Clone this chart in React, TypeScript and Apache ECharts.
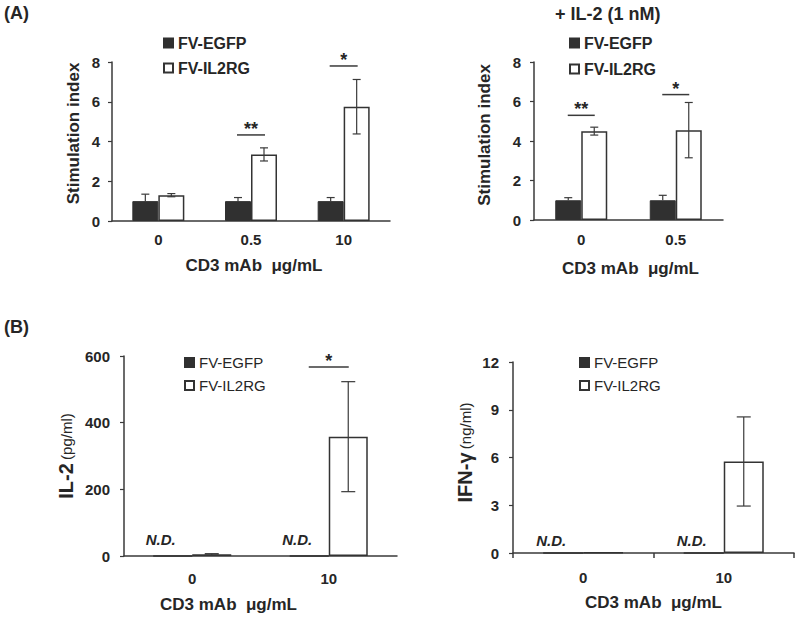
import React, { useEffect, useRef } from 'react';
import * as echarts from 'echarts';

// ---------- data ----------
const seriesNames = ['FV-EGFP', 'FV-IL2RG'];

// (A) left: Stimulation index
const aCats = ['0', '0.5', '10'];
const aEgfp = [1, 1, 1];
const aEgfpErr = [0.35, 0.18, 0.18];
const aIl2rg = [1.3, 3.35, 5.75];
const aIl2rgErr = [0.08, 0.33, 1.37];
const aSig: [number, number, string][] = [[1, 4.33, '**'], [2, 7.8, '*']];
const aYTicks = [0, 2, 4, 6, 8];

// (A) right: + IL-2 (1 nM)
const a2Cats = ['0', '0.5'];
const a2Egfp = [1, 1];
const a2EgfpErr = [0.13, 0.25];
const a2Il2rg = [4.5, 4.55];
const a2Il2rgErr = [0.2, 1.4];
const a2Sig: [number, number, string][] = [[0, 5.3, '**'], [1, 6.35, '*']];
const a2YTicks = [0, 2, 4, 6, 8];

// (B) left: IL-2 (pg/ml)
const bCats = ['0', '10'];
const bEgfp = [0, 0];
const bIl2rg = [5, 358];
const bIl2rgErr = [2, 165];
const bSig: [number, number, string][] = [[1, 567, '*']];
const bND = [0, 1];
const bYTicks = [0, 200, 400, 600];

// (B) right: IFN-γ (ng/ml)
const b2Cats = ['0', '10'];
const b2Egfp = [0, 0];
const b2Il2rg = [0.03, 5.75];
const b2Il2rgErr = [0, 2.8];
const b2ND = [0, 1];
const b2YTicks = [0, 3, 6, 9, 12];

// ---------- style ----------
const FONT = '"Liberation Sans", Arial, Helvetica, sans-serif';
const INK = '#262626';
const LINE = '#3a3a3a';

type PanelDef = {
  cats: string[];
  egfp: number[];
  egfpErr: number[] | null;
  il2rg: number[];
  il2rgErr: number[];
  sig: [number, number, string][];
  nd: number[];
  yTicks: number[];
  grid: { left: number; top: number; width: number; height: number };
  barW: number;
  capW: number;
  sigW: number;
  yName: string;
  yNameRich: boolean;
  yNameGap: number;
  yNamePad: number[];
  yLabelMargin: number;
  xLabelMargin: number;
  xNameGap: number;
  xNamePad: number[];
  xTicks: boolean;
  legend: { left: number; top: number; itemGap: number; bold: boolean; fontSize: number };
  ndDy: number;
};

const panels: PanelDef[] = [
  {
    cats: aCats, egfp: aEgfp, egfpErr: aEgfpErr, il2rg: aIl2rg, il2rgErr: aIl2rgErr,
    sig: aSig, nd: [], yTicks: aYTicks,
    grid: { left: 112, top: 62, width: 278, height: 159 },
    barW: 26, capW: 8, sigW: 28,
    yName: 'Stimulation index', yNameRich: false, yNameGap: 30, yNamePad: [0, 0, 0, 16],
    yLabelMargin: 12, xLabelMargin: 11, xNameGap: 36, xNamePad: [0, 0, 0, 6], xTicks: false,
    legend: { left: 163, top: 35, itemGap: 9, bold: true, fontSize: 16 }, ndDy: 0,
  },
  {
    cats: a2Cats, egfp: a2Egfp, egfpErr: a2EgfpErr, il2rg: a2Il2rg, il2rgErr: a2Il2rgErr,
    sig: a2Sig, nd: [], yTicks: a2YTicks,
    grid: { left: 534, top: 62, width: 189, height: 158 },
    barW: 26, capW: 8, sigW: 27,
    yName: 'Stimulation index', yNameRich: false, yNameGap: 41, yNamePad: [0, 0, 0, 12],
    yLabelMargin: 13, xLabelMargin: 12, xNameGap: 40, xNamePad: [0, 0, 0, 4], xTicks: false,
    legend: { left: 569, top: 35, itemGap: 10, bold: true, fontSize: 16 }, ndDy: 0,
  },
  {
    cats: bCats, egfp: bEgfp, egfpErr: null, il2rg: bIl2rg, il2rgErr: bIl2rgErr,
    sig: bSig, nd: bND, yTicks: bYTicks,
    grid: { left: 124, top: 356, width: 273, height: 200 },
    barW: 39, capW: 14, sigW: 40,
    yName: '{big|IL-2} {small|(pg/ml)}', yNameRich: true, yNameGap: 48, yNamePad: [0, 0, 0, 0],
    yLabelMargin: 14, xLabelMargin: 15, xNameGap: 40, xNamePad: [0, 64, 0, 0], xTicks: false,
    legend: { left: 184, top: 355, itemGap: 8, bold: false, fontSize: 15 }, ndDy: 17,
  },
  {
    cats: b2Cats, egfp: b2Egfp, egfpErr: null, il2rg: b2Il2rg, il2rgErr: b2Il2rgErr,
    sig: [], nd: b2ND, yTicks: b2YTicks,
    grid: { left: 513, top: 362, width: 281, height: 191 },
    barW: 40, capW: 14, sigW: 40,
    yName: '{big|IFN-γ} {small|(ng/ml)}', yNameRich: true, yNameGap: 38, yNamePad: [0, 0, 0, 10],
    yLabelMargin: 14, xLabelMargin: 17, xNameGap: 41, xNamePad: [0, 0, 0, 0], xTicks: true,
    legend: { left: 579, top: 355, itemGap: 8, bold: false, fontSize: 15 }, ndDy: 13,
  },
];

function errRenderer(sign: number, barW: number, capW: number, upOnly: boolean) {
  return (params: any, api: any) => {
    const idx = api.value(0);
    const v = api.value(1);
    const e = api.value(2);
    if (!e) return { type: 'group', children: [] };
    const c = api.coord([idx, v]);
    const x = c[0] + (sign * barW) / 2;
    const top = api.coord([idx, v + e])[1];
    const bot = upOnly ? c[1] : api.coord([idx, v - e])[1];
    const style = { stroke: LINE, lineWidth: 1.2 };
    const children: any[] = [
      { type: 'line', shape: { x1: x, y1: top, x2: x, y2: bot }, style },
      { type: 'line', shape: { x1: x - capW / 2, y1: top, x2: x + capW / 2, y2: top }, style },
    ];
    if (!upOnly) {
      children.push({ type: 'line', shape: { x1: x - capW / 2, y1: bot, x2: x + capW / 2, y2: bot }, style });
    }
    return { type: 'group', children };
  };
}

function sigRenderer(sig: [number, number, string][], w: number) {
  return (params: any, api: any) => {
    const idx = api.value(0);
    const y = api.value(1);
    const c = api.coord([idx, y]);
    const label = sig[params.dataIndex][2];
    return {
      type: 'group',
      children: [
        { type: 'line', shape: { x1: c[0] - w / 2, y1: c[1], x2: c[0] + w / 2, y2: c[1] }, style: { stroke: LINE, lineWidth: 1.5 } },
        {
          type: 'text',
          x: c[0],
          y: c[1] + 3,
          style: {
            text: label, fill: INK, font: `bold 18px ${FONT}`,
            align: 'center', verticalAlign: 'bottom', textAlign: 'center', textVerticalAlign: 'bottom',
          },
        },
      ],
    };
  };
}

function ndRenderer(barW: number, dy: number) {
  return (params: any, api: any) => {
    const idx = api.value(0);
    const c = api.coord([idx, 0]);
    return {
      type: 'text',
      x: c[0] - barW / 2 - 12,
      y: c[1] - dy,
      style: {
        text: 'N.D.', fill: INK, font: `italic bold 15px ${FONT}`,
        align: 'center', verticalAlign: 'middle', textAlign: 'center', textVerticalAlign: 'middle',
      },
    };
  };
}

function buildOption() {
  const grid: any[] = [];
  const xAxis: any[] = [];
  const yAxis: any[] = [];
  const series: any[] = [];
  const legend: any[] = [];

  panels.forEach((p, i) => {
    grid.push({ ...p.grid, containLabel: false });
    xAxis.push({
      type: 'category',
      gridIndex: i,
      data: p.cats,
      axisLine: { show: true, lineStyle: { color: LINE, width: 1.5 } },
      axisTick: { show: p.xTicks, length: 5, lineStyle: { color: LINE, width: 1.5 } },
      axisLabel: { color: INK, fontSize: 15, fontWeight: 'bold', fontFamily: FONT, margin: p.xLabelMargin },
      splitLine: { show: false },
      name: 'CD3 mAb  μg/mL',
      nameLocation: 'middle',
      nameGap: p.xNameGap,
      nameTextStyle: { color: INK, fontSize: 17, fontWeight: 'bold', fontFamily: FONT, padding: p.xNamePad },
    });
    const ticks = p.yTicks;
    yAxis.push({
      type: 'value',
      gridIndex: i,
      min: ticks[0],
      max: ticks[ticks.length - 1],
      interval: ticks[1] - ticks[0],
      axisLine: { show: true, lineStyle: { color: LINE, width: 1.5 } },
      axisTick: { show: true, length: 4, lineStyle: { color: LINE, width: 1.2 } },
      axisLabel: { color: INK, fontSize: 15, fontWeight: 'bold', fontFamily: FONT, margin: p.yLabelMargin },
      splitLine: { show: false },
      name: p.yName,
      nameLocation: 'middle',
      nameGap: p.yNameGap,
      nameTextStyle: p.yNameRich
        ? {
            color: INK, fontFamily: FONT, padding: p.yNamePad,
            rich: {
              big: { fontSize: 20, fontWeight: 'bold', color: INK, fontFamily: FONT },
              small: { fontSize: 15, fontWeight: 'normal', color: INK, fontFamily: FONT },
            },
          }
        : { color: INK, fontSize: 17, fontWeight: 'bold', fontFamily: FONT, padding: p.yNamePad },
    });

    series.push({
      type: 'bar',
      name: seriesNames[0],
      xAxisIndex: i,
      yAxisIndex: i,
      data: p.egfp,
      barWidth: p.barW,
      barGap: '0%',
      itemStyle: { color: '#303030', borderColor: '#303030', borderWidth: 1 },
      z: 2,
    });
    series.push({
      type: 'bar',
      name: seriesNames[1],
      xAxisIndex: i,
      yAxisIndex: i,
      data: p.il2rg,
      barWidth: p.barW,
      barGap: '0%',
      itemStyle: { color: '#ffffff', borderColor: '#333333', borderWidth: 1.5 },
      z: 2,
    });
    if (p.egfpErr) {
      series.push({
        type: 'custom',
        name: 'err-egfp-' + i,
        xAxisIndex: i,
        yAxisIndex: i,
        z: 5,
        renderItem: errRenderer(-1, p.barW, p.capW, true),
        data: p.egfp.map((v, k) => [k, v, p.egfpErr![k]]),
      });
    }
    series.push({
      type: 'custom',
      name: 'err-il2rg-' + i,
      xAxisIndex: i,
      yAxisIndex: i,
      z: 5,
      renderItem: errRenderer(1, p.barW, p.capW, false),
      data: p.il2rg.map((v, k) => [k, v, p.il2rgErr[k]]),
    });
    if (p.sig.length) {
      series.push({
        type: 'custom',
        name: 'sig-' + i,
        xAxisIndex: i,
        yAxisIndex: i,
        z: 5,
        renderItem: sigRenderer(p.sig, p.sigW),
        data: p.sig.map((s) => [s[0], s[1]]),
      });
    }
    if (p.nd.length) {
      series.push({
        type: 'custom',
        name: 'nd-' + i,
        xAxisIndex: i,
        yAxisIndex: i,
        z: 5,
        renderItem: ndRenderer(p.barW, p.ndDy),
        data: p.nd.map((k) => [k, 0]),
      });
    }

    legend.push({
      data: seriesNames,
      orient: 'vertical',
      left: p.legend.left,
      top: p.legend.top,
      itemWidth: 9,
      itemHeight: 9,
      itemGap: p.legend.itemGap,
      icon: 'rect',
      selectedMode: false,
      padding: 0,
      textStyle: {
        color: INK,
        fontSize: p.legend.fontSize,
        fontWeight: p.legend.bold ? 'bold' : 'normal',
        fontFamily: FONT,
      },
    });
  });

  return {
    animation: false,
    backgroundColor: '#ffffff',
    grid,
    xAxis,
    yAxis,
    series,
    legend,
    graphic: [
      { type: 'text', left: 4, top: 4, style: { text: '(A)', font: `bold 18px ${FONT}`, fill: INK } },
      { type: 'text', left: 4, top: 318, style: { text: '(B)', font: `bold 18px ${FONT}`, fill: INK } },
      { type: 'text', left: 555, top: 5, style: { text: '+ IL-2 (1 nM)', font: `bold 18px ${FONT}`, fill: INK } },
    ],
  };
}

export default function App() {
  const ref = useRef<HTMLDivElement>(null);
  useEffect(() => {
    if (!ref.current) return;
    const chart = echarts.init(ref.current, undefined, { renderer: 'svg' });
    chart.setOption(buildOption() as any);
    return () => chart.dispose();
  }, []);
  return (
    <div
      ref={ref}
      style={{ position: 'fixed', left: 0, top: 0, width: 798, height: 622, background: '#fff' }}
    />
  );
}
